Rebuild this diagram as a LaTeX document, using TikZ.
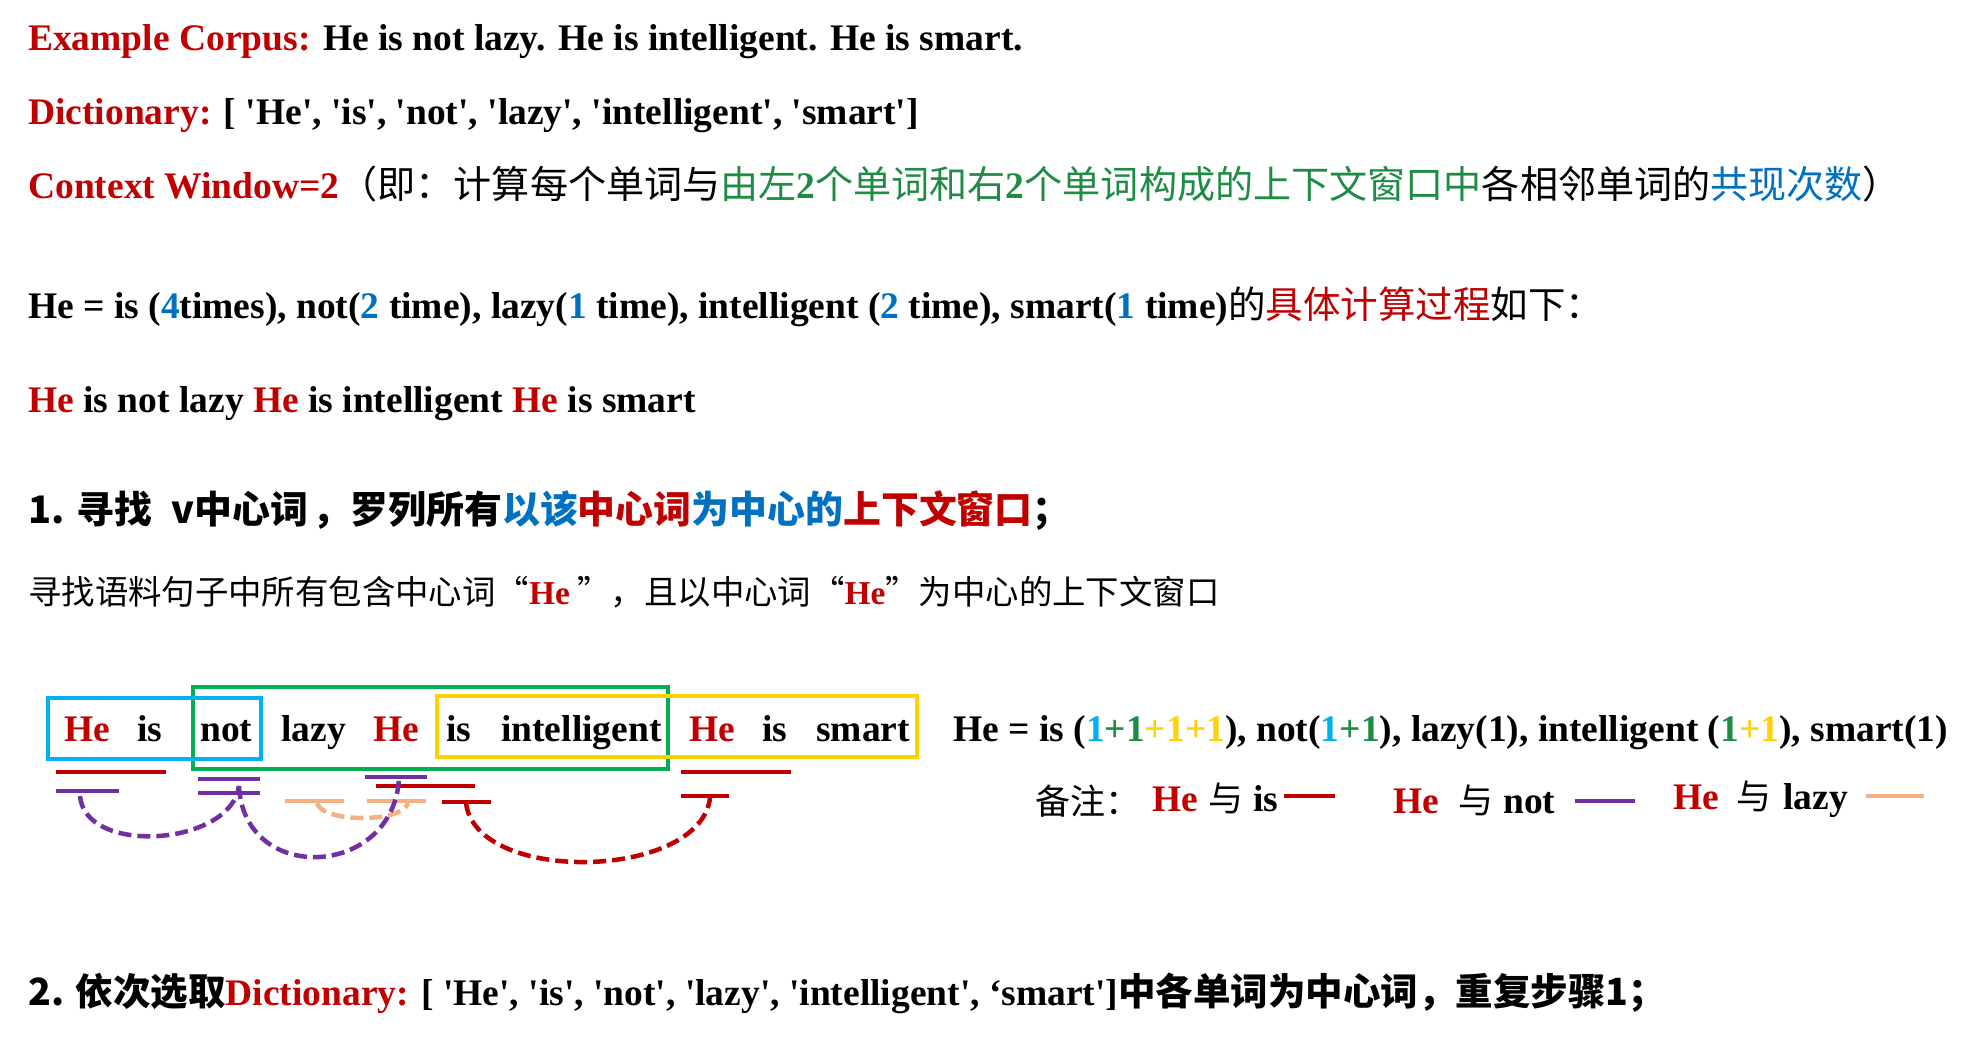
\documentclass[tikz,border=0pt]{standalone}
\usepackage{fontspec}
\setmainfont{Liberation Serif}
\newfontfamily\cjk{Noto Sans CJK SC}
\newcommand\sq{\textquotesingle}
\newcommand\cjkm{\cjk\mdseries\fontsize{38.1}{45}\selectfont}
\definecolor{cred}{HTML}{C00000}
\definecolor{cblue}{HTML}{0070C0}
\definecolor{cgreen}{HTML}{1E8C45}
\definecolor{ccyan}{HTML}{00B0F0}
\definecolor{cyellow}{HTML}{FFD200}
\definecolor{boxgreen}{HTML}{00B050}
\definecolor{cpurple}{HTML}{7030A0}
\definecolor{corange}{HTML}{F4B183}
\begin{document}
\begin{tikzpicture}[x=1pt,y=-1pt,
  txt/.style={anchor=base west, inner sep=0pt, font=\fontsize{37.5}{45}\selectfont\bfseries},
  smalltxt/.style={anchor=base west, inner sep=0pt, font=\fontsize{33.4}{40}\selectfont},
  legtxt/.style={anchor=base west, inner sep=0pt, font=\fontsize{35}{42}\selectfont},
  winbox/.style={line width=4.5pt},
  ulmark/.style={line width=4.5pt},
  arcline/.style={line width=4.5pt, dash pattern=on 13pt off 6pt}]
\useasboundingbox (0,0) rectangle (1974,1039);
\fill[white] (0,0) rectangle (1974,1039);

% header lines
\node[txt] (l1) at (28,50) {\textcolor{cred}{Example Corpus:} He is not lazy. He is intelligent. He is smart.};
\node[txt] (l2) at (28,124) {\textcolor{cred}{Dictionary:} [ \sq He\sq, \sq is\sq, \sq not\sq, \sq lazy\sq, \sq intelligent\sq, \sq smart\sq]};
\node[txt] (l3) at (28,198) {\textcolor{cred}{Context Window=2}{\cjkm （即：计算每个单词与}\textcolor{cgreen}{{\cjkm 由左}2{\cjkm 个单词和右}2{\cjkm 个单词构成的上下文窗口中}}{\cjkm 各相邻单词的}\textcolor{cblue}{\cjkm 共现次数}{\cjkm ）}};
\node[txt] (l4) at (28,318) {He = is (\textcolor{cblue}{4}times), not(\textcolor{cblue}{2} time), lazy(\textcolor{cblue}{1} time), intelligent (\textcolor{cblue}{2} time), smart(\textcolor{cblue}{1} time){\cjk\mdseries 的}\textcolor{cred}{\cjk\mdseries 具体计算过程}{\cjk\mdseries 如下：}};
\node[txt] (l5) at (28,412) {\textcolor{cred}{He} is not lazy \textcolor{cred}{He} is intelligent \textcolor{cred}{He} is smart};
\node[txt, font=\fontsize{37.9}{45}\selectfont\bfseries] (l6) at (28,523) {\cjk\bfseries 1. 寻找\hspace{20pt}v中心词\hspace{4pt}，罗列所有\textcolor{cblue}{以该}\textcolor{cred}{中心词}\textcolor{cblue}{为中心的}\textcolor{cred}{上下文窗口}；};
\node[smalltxt] (l7) at (28,604) {\cjk 寻找语料句子中所有包含中心词“\textcolor{cred}{\rmfamily\bfseries He} ”，且以中心词“\textcolor{cred}{\rmfamily\bfseries He}”为中心的上下文窗口};

% window boxes
\draw[winbox, boxgreen] (193,687) rectangle (668,769);
\draw[winbox, ccyan] (48,698) rectangle (261,759);
\draw[winbox, cyellow] (437,696) rectangle (917,757);

% sentence words
\node[txt, text=cred] (w1) at (64,741) {He};
\node[txt] (w2) at (137,741) {is};
\node[txt] (w3) at (200,741) {not};
\node[txt] (w4) at (281,741) {lazy};
\node[txt, text=cred] (w5) at (373,741) {He};
\node[txt] (w6) at (446,741) {is};
\node[txt] (w7) at (501,741) {intelligent};
\node[txt, text=cred] (w8) at (689,741) {He};
\node[txt] (w9) at (762,741) {is};
\node[txt] (w10) at (816,741) {smart};

% formula
\node[txt] (f1) at (953,741) {He = is (\textcolor{ccyan}{1}\textcolor{cgreen}{+1}\textcolor{cyellow}{+1+1}), not(\textcolor{ccyan}{1}\textcolor{cgreen}{+1}), lazy(1), intelligent (\textcolor{cgreen}{1}\textcolor{cyellow}{+1}), smart(1)};

% underline marks
\draw[ulmark, cred] (56,772) -- (166,772);
\draw[ulmark, cpurple] (56,791) -- (119,791);
\draw[ulmark, cpurple] (198,779) -- (260,779);
\draw[ulmark, cpurple] (198,793) -- (260,793);
\draw[ulmark, cpurple] (365,777) -- (427,777);
\draw[ulmark, cred] (376,786) -- (475,786);
\draw[ulmark, cred] (442,802) -- (491,802);
\draw[ulmark, corange] (285,801) -- (344,801);
\draw[ulmark, corange] (367,801) -- (426,801);
\draw[ulmark, cred] (681,772) -- (791,772);
\draw[ulmark, cred] (681,796) -- (729,796);

% arc end points
\coordinate (p1) at (80,796);
\coordinate (p2) at (239,786);
\coordinate (p3) at (399,778);
\coordinate (o1) at (317,803);
\coordinate (o2) at (408,803);
\coordinate (r1) at (466,803);
\coordinate (r2) at (710,798);

\draw[arcline, corange] (o1) .. controls +(5,20) and +(-5,20) .. (o2);
\draw[arcline, cpurple] (p1) .. controls +(5,60) and +(-8,60) .. (p2);
\draw[arcline, cpurple] (p2) .. controls +(5,100) and +(-5,100) .. (p3);
\draw[arcline, cred] (r1) .. controls +(10,82) and +(-10,82) .. (r2);

% legend
\node[legtxt] (n0) at (1035,814) {\cjk 备注：};
\node[legtxt, text=cred, font=\fontsize{37.5}{45}\selectfont\bfseries] (h1) at (1152,811) {He};
\node[legtxt] (y1) at (1208,811) {\cjk 与};
\node[txt] (t1) at (1253,811) {is};
\draw[ulmark, cred] (1284,796) -- (1335,796);
\node[legtxt, text=cred, font=\fontsize{37.5}{45}\selectfont\bfseries] (h2) at (1393,813) {He};
\node[legtxt] (y2) at (1458,813) {\cjk 与};
\node[txt] (t2) at (1503,813) {not};
\draw[ulmark, cpurple] (1575,801) -- (1635,801);
\node[legtxt, text=cred, font=\fontsize{37.5}{45}\selectfont\bfseries] (h3) at (1673,809) {He};
\node[legtxt] (y3) at (1736,809) {\cjk 与};
\node[txt] (t3) at (1783,809) {lazy};
\draw[ulmark, corange] (1866,796) -- (1924,796);

% step 2
\node[txt] (l8) at (28,1005) {{\cjk\bfseries 2. 依次选取}\textcolor{cred}{Dictionary:} [ \sq He\sq, \sq is\sq, \sq not\sq, \sq lazy\sq, \sq intelligent\sq, ‘smart\sq]{\cjk\bfseries 中各单词为中心词，重复步骤1；}};
\end{tikzpicture}
\end{document}
